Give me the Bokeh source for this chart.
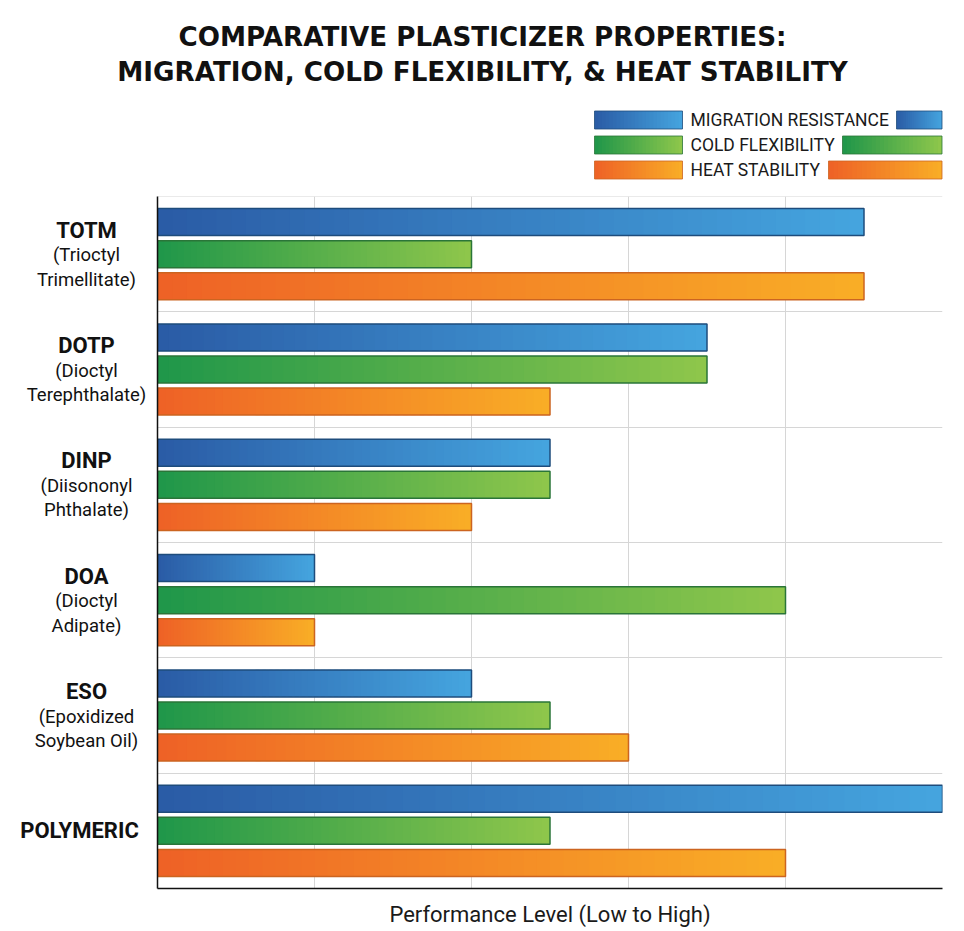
import numpy as np
from bokeh.plotting import figure
from bokeh.models import ColumnDataSource, Range1d, FactorRange, FixedTicker
from bokeh.transform import dodge
from bokeh.layouts import column, row
from bokeh.core.properties import value
from bokeh.embed import file_html
from bokeh.resources import INLINE

# ---------------- data ----------------
categories = ["TOTM", "DOTP", "DINP", "DOA", "ESO", "POLYMERIC"]
sub_names = [
    ["(Trioctyl", "Trimellitate)"],
    ["(Dioctyl", "Terephthalate)"],
    ["(Diisononyl", "Phthalate)"],
    ["(Dioctyl", "Adipate)"],
    ["(Epoxidized", "Soybean Oil)"],
    [],
]
series_names = ["MIGRATION RESISTANCE", "COLD FLEXIBILITY", "HEAT STABILITY"]
migration = [4.5, 3.5, 2.5, 1.0, 2.0, 5.0]
cold_flex = [2.0, 3.5, 2.5, 4.0, 2.5, 2.5]
heat_stab = [4.5, 2.5, 2.0, 1.0, 3.0, 4.0]
x_ticks = [0, 1, 2, 3, 4, 5]
x_label = "Performance Level (Low to High)"
title_lines = ["COMPARATIVE PLASTICIZER PROPERTIES:",
               "MIGRATION, COLD FLEXIBILITY, & HEAT STABILITY"]

# ---------------- style ----------------
FONT = value("Roboto")
grad = [("#2A5BA5", "#45A5DF"), ("#1F964A", "#8FC74B"), ("#EE6126", "#F9AE26")]
outline = ["#1E4C7C", "#2A7538", "#CC6420"]
offsets = [0.278, 0.0, -0.278]
BAR_H = 0.234
NSL = 48
GRID = "#d6d6d6"
FRAME_L, FRAME_R = 157, 942
HEAD_H = 192
MAIN_H = 931 - HEAD_H
TOP_B, BOT_B = 4, 43
LAB_W = 155


def hex2rgb(h):
    h = h.lstrip("#")
    return np.array([int(h[i:i + 2], 16) for i in (0, 2, 4)], dtype=float)


def mix(c0, c1, t):
    a, b = hex2rgb(c0), hex2rgb(c1)
    c = a + (b - a) * t
    return "#%02x%02x%02x" % tuple(int(round(v)) for v in c)


# ---------------- header (title + legend) ----------------
header = figure(width=964, height=HEAD_H, x_range=Range1d(0, 964), y_range=Range1d(HEAD_H, 0),
                output_backend="svg", toolbar_location=None, x_axis_type=None, y_axis_type=None,
                min_border=0)
header.outline_line_color = None
header.text(x=[482, 482], y=[36, 71], text=title_lines, text_font=value("DejaVu Sans"),
            text_font_style="bold", text_font_size="26.2px", text_align="center",
            text_baseline="middle", text_color="#111111")

leg_y = [119.5, 144.5, 169.5]
leg_left = [(594, 682), (594, 682), (594, 682)]
leg_right = [(896, 942), (842, 942), (828, 942)]


def grad_quads(fig, x0, x1, yc, h, c0, c1, oc):
    n = 24
    xs = np.linspace(x0, x1, n + 1)
    cols = [mix(c0, c1, (i + 0.5) / n) for i in range(n)]
    rights = [min(xs[i + 1] + (x1 - x0) / n * 0.5, x1) for i in range(n)]
    fig.quad(left=list(xs[:-1]), right=rights, top=[yc - h / 2] * n, bottom=[yc + h / 2] * n,
             fill_color=cols, line_color=None)
    fig.quad(left=[x0], right=[x1], top=[yc - h / 2], bottom=[yc + h / 2], fill_color=None,
             line_color=oc, line_width=1, line_alpha=0.8)


for k in range(3):
    grad_quads(header, leg_left[k][0], leg_left[k][1], leg_y[k], 18, grad[k][0], grad[k][1], outline[k])
    grad_quads(header, leg_right[k][0], leg_right[k][1] - 0.5, leg_y[k], 18, grad[k][0], grad[k][1], outline[k])
header.text(x=[690] * 3, y=leg_y, text=series_names, text_font=FONT, text_font_size="17.5px",
            text_align="left", text_baseline="middle", text_color="#1a1a1a")

# ---------------- main chart ----------------
factors = categories[::-1]
yr = FactorRange(factors=factors, range_padding=0)
main = figure(width=964 - LAB_W, height=MAIN_H, y_range=yr,
              x_range=Range1d(0, 5), output_backend="svg", toolbar_location=None,
              min_border_left=FRAME_L - LAB_W, min_border_right=964 - FRAME_R,
              min_border_top=TOP_B, min_border_bottom=BOT_B)
main.outline_line_color = None
main.ygrid.visible = False
main.xgrid.ticker = FixedTicker(ticks=x_ticks)
main.xgrid.grid_line_color = GRID
main.xgrid.grid_line_width = 1

# band separators
main.hspan(y=[1, 2, 3, 4, 5, 6], line_color=GRID, line_width=1)

all_vals = [migration, cold_flex, heat_stab]
for k, vals in enumerate(all_vals):
    cats, lefts, rights, cols = [], [], [], []
    for c, v in zip(categories, vals):
        for i in range(NSL):
            cats.append(c)
            lefts.append(v * i / NSL)
            rights.append(min(v * (i + 1.6) / NSL, v))
            cols.append(mix(grad[k][0], grad[k][1], (i + 0.5) / NSL))
    src = ColumnDataSource(dict(cat=cats, left=lefts, right=rights, color=cols))
    main.hbar(y=dodge("cat", offsets[k], range=yr), left="left", right="right",
              height=BAR_H, fill_color="color", line_color=None, source=src)
    osrc = ColumnDataSource(dict(cat=categories, val=vals))
    main.hbar(y=dodge("cat", offsets[k], range=yr), left=0, right="val",
              height=BAR_H, fill_color=None, line_color=outline[k], line_width=1.5, source=osrc)

# axes
main.xaxis.ticker = FixedTicker(ticks=x_ticks)
main.xaxis.major_label_overrides = {t: "" for t in x_ticks}
main.yaxis.ticker = FixedTicker(ticks=[])
for ax in (main.xaxis, main.yaxis):
    ax.axis_line_color = "#111111"
    ax.axis_line_width = 1.5
    ax.major_tick_line_color = None
    ax.minor_tick_line_color = None
    ax.major_tick_out = 0
    ax.major_tick_in = 0
main.yaxis.major_label_standoff = 0
main.xaxis.axis_label = x_label
main.xaxis.axis_label_text_font = "Roboto"
main.xaxis.axis_label_text_font_style = "normal"
main.xaxis.axis_label_text_font_size = "22px"
main.xaxis.axis_label_text_color = "#1a1a1a"
main.xaxis.axis_label_standoff = 13

# ---------------- category labels (panel sharing the factor range) ----------------
labfig = figure(width=LAB_W, height=MAIN_H, y_range=yr, x_range=Range1d(0, LAB_W),
                output_backend="svg", toolbar_location=None, x_axis_type=None, y_axis_type=None,
                min_border=0, min_border_top=TOP_B, min_border_bottom=BOT_B)
labfig.outline_line_color = None
n_cat, n_txt, n_off, n_xoff, s_cat, s_txt, s_off = [], [], [], [], [], [], []
for c, subs in zip(categories, sub_names):
    n_cat.append(c)
    n_txt.append(c)
    n_off.append(-24 if subs else 0)
    n_xoff.append(0 if subs else -7)
    for j, s in enumerate(subs):
        s_cat.append(c)
        s_txt.append(s)
        s_off.append(1 + 24.5 * j)
LX = 86
labfig.text(x=LX, y="cat", text="txt", y_offset="off", x_offset="xoff",
            source=ColumnDataSource(dict(cat=n_cat, txt=n_txt, off=n_off, xoff=n_xoff)),
            text_font=FONT, text_font_style="bold", text_font_size="22px",
            text_align="center", text_baseline="middle", text_color="#111111")
labfig.text(x=LX, y="cat", text="txt", y_offset="off",
            source=ColumnDataSource(dict(cat=s_cat, txt=s_txt, off=s_off)),
            text_font=FONT, text_font_size="18.5px",
            text_align="center", text_baseline="middle", text_color="#111111")

layout = column(header, row(labfig, main, spacing=0), spacing=0)
open("out.html", "w").write(file_html(layout, INLINE))
